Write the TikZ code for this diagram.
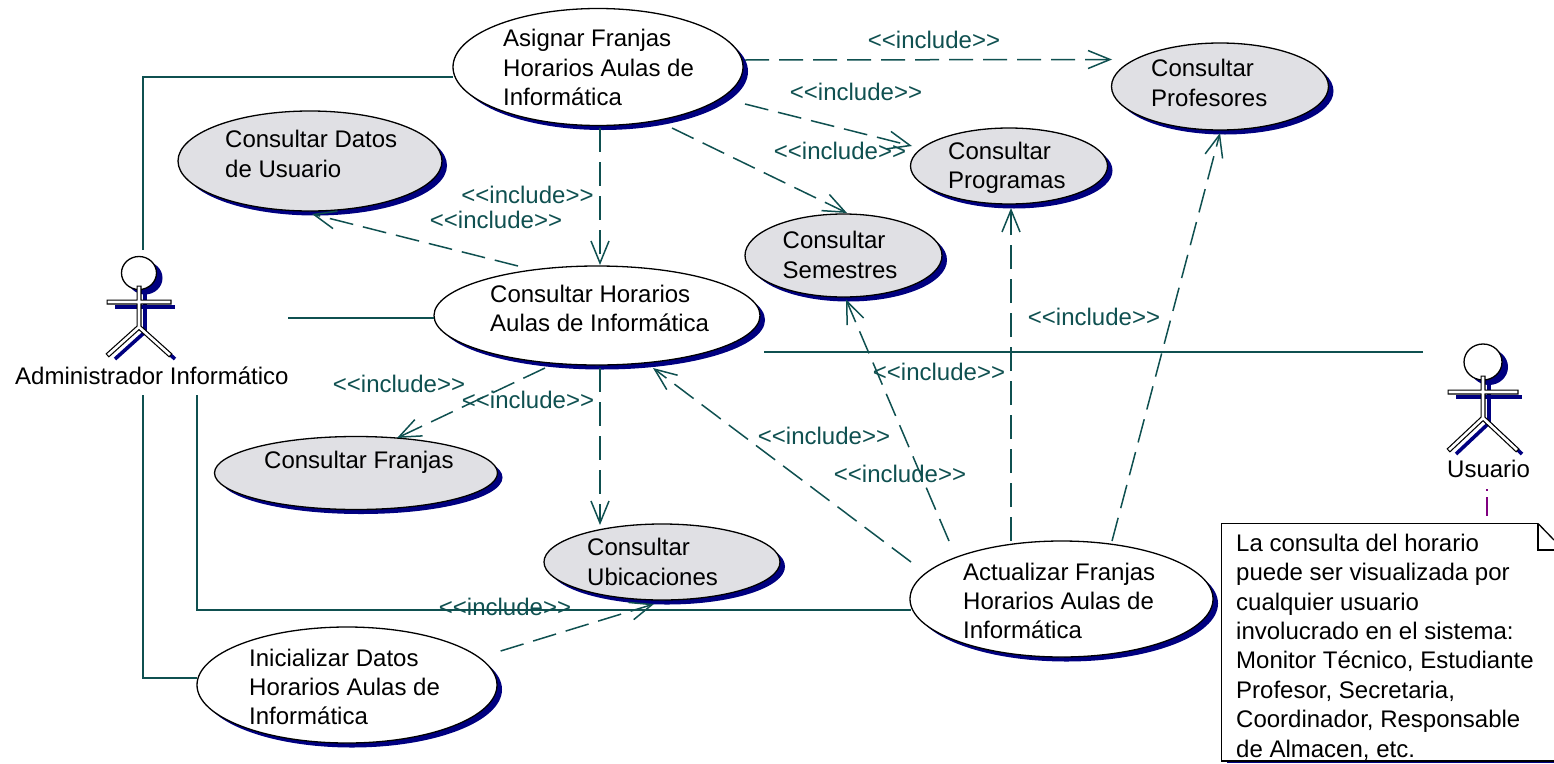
\documentclass[tikz,border=0pt]{standalone}
\usepackage{fontspec}
\setmainfont{Liberation Sans}
\usetikzlibrary{arrows.meta,shapes.geometric}
\definecolor{teal1}{HTML}{0F5050}
\definecolor{navy1}{HTML}{000080}
\definecolor{gray1}{HTML}{E0E0E4}
\definecolor{purple1}{HTML}{800080}
\tikzset{
  x=1pt,y=-1pt,
  uc/.style={ellipse,draw=black,line width=1.3pt,inner sep=0pt,fill=white},
  ucgray/.style={uc,fill=gray1},
  ucsh/.style={ellipse,fill=navy1,draw=none,inner sep=0pt},
  txt/.style={anchor=west,align=left,inner sep=0pt,font=\fontsize{24}{29.4}\selectfont,text=black},
  inc/.style={draw=teal1,line width=1.5pt,dash pattern=on 24pt off 10pt,-{Straight Barb[length=22pt,width=18pt,line width=1.5pt]}},
  inclabel/.style={inner sep=0pt,font=\fontsize{24}{28}\selectfont,text=teal1},
  assoc/.style={draw=teal1,line width=1.6pt},
  limbout/.style={draw=black,line width=5pt,line cap=rect},
  limbin/.style={draw=white,line width=2.6pt,line cap=rect},
  limbsh/.style={draw=navy1,line width=3.6pt},
  head/.style={ellipse,draw=black,fill=white,line width=1.3pt,inner sep=0pt},
}
\newcommand{\usecase}[6]{% name, cx, cy, width, height, style
  \node[ucsh,minimum width=#4pt,minimum height=#5pt] (#1s) at (#2+5,#3+4.5) {};
  \node[#6,minimum width=#4pt,minimum height=#5pt] (#1) at (#2,#3) {};
}
\newcommand{\actor}[9]{% name, cx, cy(head), head width, head height, arm half, top, hip, foot
  \node[ellipse,fill=navy1,inner sep=0pt,minimum width=#4pt,minimum height=#5pt] (#1s) at (#2+6,#3+5) {};
  \draw[limbsh] (#2+6,#7+5) -- (#2+6,#8+5);
  \draw[limbsh] (#2+6-#6,#7+14+5) -- (#2+6+#6,#7+14+5);
  \draw[limbsh] (#2+6-#6,#9+5) -- (#2+6,#8+5) -- (#2+6+#6,#9+5);
  \node[head,minimum width=#4pt,minimum height=#5pt] (#1) at (#2,#3) {};
  \draw[limbout] (#2-#6,#7+14) -- (#2+#6,#7+14) (#2,#7) -- (#2,#8) (#2-#6,#9) -- (#2,#8) -- (#2+#6,#9);
  \draw[limbin] (#2-#6,#7+14) -- (#2+#6,#7+14) (#2,#7) -- (#2,#8) (#2-#6,#9) -- (#2,#8) -- (#2+#6,#9);
}
\begin{document}
\begin{tikzpicture}
\useasboundingbox (0,0) rectangle (1554,763);
% use cases
\usecase{asignar}{598}{67}{290}{117}{uc}
\usecase{prof}{1220}{86.5}{217}{87}{ucgray}
\usecase{datos}{310}{161}{264}{100}{ucgray}
\usecase{prog}{1009}{166}{197}{76}{ucgray}
\usecase{sem}{843.5}{255.5}{197}{83}{ucgray}
\usecase{hor}{597}{315.5}{326}{99}{uc}
\usecase{fran}{356}{473}{283}{73}{ucgray}
\usecase{ubi}{662}{562}{236}{76}{ucgray}
\usecase{act}{1061.5}{599}{303}{116}{uc}
\usecase{ini}{347}{685}{300}{116}{uc}
% use case texts
\node[txt] (tasignar) at (503,67.5) {Asignar Franjas\\Horarios Aulas de\\Informática};
\node[txt] (tprof) at (1151,83) {Consultar\\Profesores};
\node[txt] (tdatos) at (225,154) {Consultar Datos\\de Usuario};
\begin{scope}
  \clip (900,120) rectangle (1120,192);
  \node[txt] (tprog) at (948,168) {Consultar\\Programas};
\end{scope}
\node[txt] (tsem) at (782.5,255) {Consultar\\Semestres};
\node[txt] (thor) at (490,308.5) {Consultar Horarios\\Aulas de Informática};
\node[txt] (tfran) at (264,462) {Consultar Franjas};
\node[txt] (tubi) at (587,562) {Consultar\\Ubicaciones};
\node[txt] (tact) at (963,601) {Actualizar Franjas\\Horarios Aulas de\\Informática};
\node[txt] (tini) at (249,687) {Inicializar Datos\\Horarios Aulas de\\Informática};
% actors
\actor{admin}{139}{273}{35}{33}{30}{288}{327}{354}
\actor{user}{1483}{362}{38}{36}{33}{378}{418}{449}
\node[txt] (tadmin) at (15,376) {Administrador Informático};
\node[txt] (tuser) at (1447,469) {Usuario};
% note
\node[minimum width=333pt,minimum height=238pt,inner sep=0pt] (note) at (1387.5,642) {};
\begin{scope}
  \clip (1221,524) rectangle (1554,761);
  \node[txt] (tnote) at (1236,647) {La consulta del horario\\puede ser visualizada por\\cualquier usuario\\involucrado en el sistema:\\Monitor Técnico, Estudiante\\Profesor, Secretaria,\\Coordinador, Responsable\\de Almacen, etc.};
\end{scope}
\draw[navy1,line width=1.5pt] (1227,762.4) -- (1554,762.4);
\draw[black,line width=1.3pt] (1538,523.5) -- (1221.5,523.5) -- (1221.5,761) -- (1554,761);
\draw[black,line width=1.3pt] (1538,523.5) -- (1538,550) -- (1554,550);
\draw[black,line width=1.3pt] (1538,523.5) -- (1554,540);
% includes
\draw[inc] ([shift={(147,-7)}]asignar.center) -- ([shift={(-108,-27)}]prof.center);
\draw[inc] ([shift={(147,37)}]asignar.center) -- ([shift={(-97,-20)}]prog.center);
\draw[inc] ([shift={(74,61)}]asignar.center) -- ([shift={(3.5,-42.5)}]sem.center);
\draw[inc] ([shift={(2,61)}]asignar.center) -- ([shift={(3,-50.5)}]hor.center);
\draw[inc] ([shift={(-79,-49.5)}]hor.center) -- ([shift={(2,53)}]datos.center);
\draw[inc] ([shift={(-52,52.5)}]hor.center) -- ([shift={(41,-35)}]fran.center);
\draw[inc] ([shift={(3,52.5)}]hor.center) -- ([shift={(-62,-37)}]ubi.center);
\draw[inc] ([shift={(-150.5,-37)}]act.center) -- ([shift={(56,52.5)}]hor.center);
\draw[inc] ([shift={(-112.5,-58)}]act.center) -- ([shift={(2.5,44)}]sem.center);
\draw[inc] ([shift={(-50.5,-58)}]act.center) -- ([shift={(2,42)}]prog.center);
\draw[inc] ([shift={(50.5,-58)}]act.center) -- ([shift={(0,46.5)}]prof.center);
\draw[inc] ([shift={(153.6,-34)}]ini.center) -- ([shift={(-8,42)}]ubi.center);
% associations
\draw[assoc] ([shift={(4,-23)}]admin.center) |- ([shift={(-145,10)}]asignar.center);
\draw[assoc] ([shift={(149,45)}]admin.center) -- ([shift={(-163,2.5)}]hor.center);
\draw[assoc] ([shift={(4,122)}]admin.center) |- ([shift={(-150,-7)}]ini.center);
\draw[assoc] ([shift={(58,122)}]admin.center) |- ([shift={(-150.5,11)}]act.center);
\draw[assoc] ([shift={(-60,-10)}]user.center) -- ([shift={(167,36.5)}]hor.center);
\draw[draw=purple1,line width=1.3pt,dash pattern=on 2pt off 6pt on 19pt off 8pt] ([shift={(4,127)}]user.center) -- ([shift={(99.5,-119)}]note.center);
% labels
\node[inclabel] (l1) at (934,40) {<{}<include>{}>};
\node[inclabel] (l2) at (856,92) {<{}<include>{}>};
\node[inclabel] (l3) at (840,151) {<{}<include>{}>};
\node[inclabel] (l4) at (527.5,195) {<{}<include>{}>};
\node[inclabel] (l5) at (496,220) {<{}<include>{}>};
\node[inclabel] (l6) at (399,384) {<{}<include>{}>};
\node[inclabel] (l7) at (528,400) {<{}<include>{}>};
\node[inclabel] (l8) at (824,436) {<{}<include>{}>};
\node[inclabel] (l9) at (939,372) {<{}<include>{}>};
\node[inclabel] (l10) at (900,474) {<{}<include>{}>};
\node[inclabel] (l11) at (1094,317) {<{}<include>{}>};
\node[inclabel] (l12) at (505,607) {<{}<include>{}>};
\end{tikzpicture}
\end{document}
